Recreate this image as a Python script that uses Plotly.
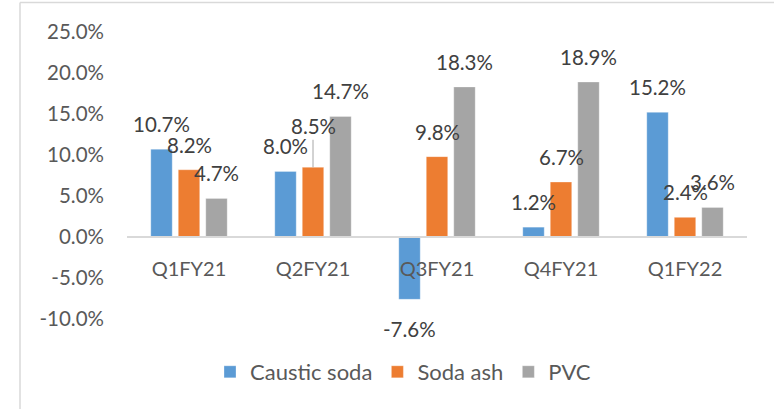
import plotly.graph_objects as go

categories = ["Q1FY21", "Q2FY21", "Q3FY21", "Q4FY21", "Q1FY22"]
series_names = ["Caustic soda", "Soda ash", "PVC"]
caustic_soda = [10.7, 8.0, -7.6, 1.2, 15.2]
soda_ash = [8.2, 8.5, 9.8, 6.7, 2.4]
pvc = [4.7, 14.7, 18.3, 18.9, 3.6]
y_ticks = [-10, -5, 0, 5, 10, 15, 20, 25]

colors = ["#5B9BD5", "#ED7D31", "#A5A5A5"]
series = [caustic_soda, soda_ash, pvc]

W, H = 774, 409
ML, MR, MT, MB = 127, 27, 32, 90
FONT = "Lato"
NUM_SIZE = 20.5
TXT_SIZE = 20
LEG_SIZE = 22
BARGAP = 0.335
BARGROUPGAP = 0.22
Y_MIN, Y_MAX = -10, 25

fig = go.Figure()
xs = list(range(len(categories)))
for name, vals, col in zip(series_names, series, colors):
    fig.add_trace(go.Bar(
        x=xs, y=vals, name=name,
        marker=dict(color=col, line=dict(color="rgba(255,255,255,0.6)", width=0.5)),
    ))

# data labels centred over each bar
slot = (1 - BARGAP) / len(series)
for j, vals in enumerate(series):
    off = (j - (len(series) - 1) / 2) * slot
    for i, v in enumerate(vals):
        txt = f"{v:.1f}%"
        if j == 1 and i == 1:
            fig.add_annotation(x=i + off, y=v, text=txt, showarrow=True,
                               arrowhead=0, arrowcolor="#A6A6A6", arrowwidth=1,
                               ax=0, ay=-41, standoff=0,
                               font=dict(family=FONT, size=NUM_SIZE, color="#404040"))
        else:
            fig.add_annotation(x=i + off, y=v, text=txt, showarrow=False,
                               yanchor="middle", yshift=25 if v >= 0 else -30,
                               font=dict(family=FONT, size=NUM_SIZE, color="#404040"))

plot_w = W - ML - MR
plot_h = H - MT - MB
# chart border (left and top)
bx = (20 - ML) / plot_w
by_top = (H - MB - 2.5) / plot_h
by_bot = (H - MB - H) / plot_h
rx = (W - ML) / plot_w
fig.add_shape(type="line", xref="paper", yref="paper", x0=bx, x1=bx, y0=by_bot, y1=by_top,
              line=dict(color="#D9D9D9", width=1.5))
fig.add_shape(type="line", xref="paper", yref="paper", x0=bx, x1=rx, y0=by_top, y1=by_top,
              line=dict(color="#D9D9D9", width=1.5))

zero_pos = (0 - Y_MIN) / (Y_MAX - Y_MIN)

fig.update_layout(
    width=W, height=H,
    margin=dict(l=ML, r=MR, t=MT, b=MB),
    paper_bgcolor="white", plot_bgcolor="white",
    barmode="group", bargap=BARGAP, bargroupgap=BARGROUPGAP,
    font=dict(family=FONT, size=TXT_SIZE, color="#595959"),
    showlegend=True,
    legend=dict(orientation="h", x=(403 - ML) / plot_w, xanchor="center",
                y=(H - MB - 372) / plot_h, yanchor="middle",
                font=dict(family=FONT, size=LEG_SIZE, color="#595959")),
    xaxis=dict(
        tickmode="array", tickvals=xs, ticktext=categories,
        range=[-0.5, len(categories) - 0.5],
        anchor="free", position=zero_pos,
        showline=True, linecolor="#D9D9D9", linewidth=1.5,
        showgrid=False, zeroline=False, ticks="",
        ticklabelstandoff=14,
        tickfont=dict(family=FONT, size=TXT_SIZE, color="#595959"),
    ),
    yaxis=dict(
        range=[Y_MIN, Y_MAX], tickvals=y_ticks,
        ticktext=[f"{t:.1f}%" for t in y_ticks],
        showgrid=False, zeroline=False, showline=False, ticks="",
        ticklabelstandoff=22,
        tickfont=dict(family=FONT, size=NUM_SIZE, color="#595959"),
    ),
)

fig.write_html("out.html", config={"displayModeBar": False},
               post_script="document.body.style.margin='0';")
